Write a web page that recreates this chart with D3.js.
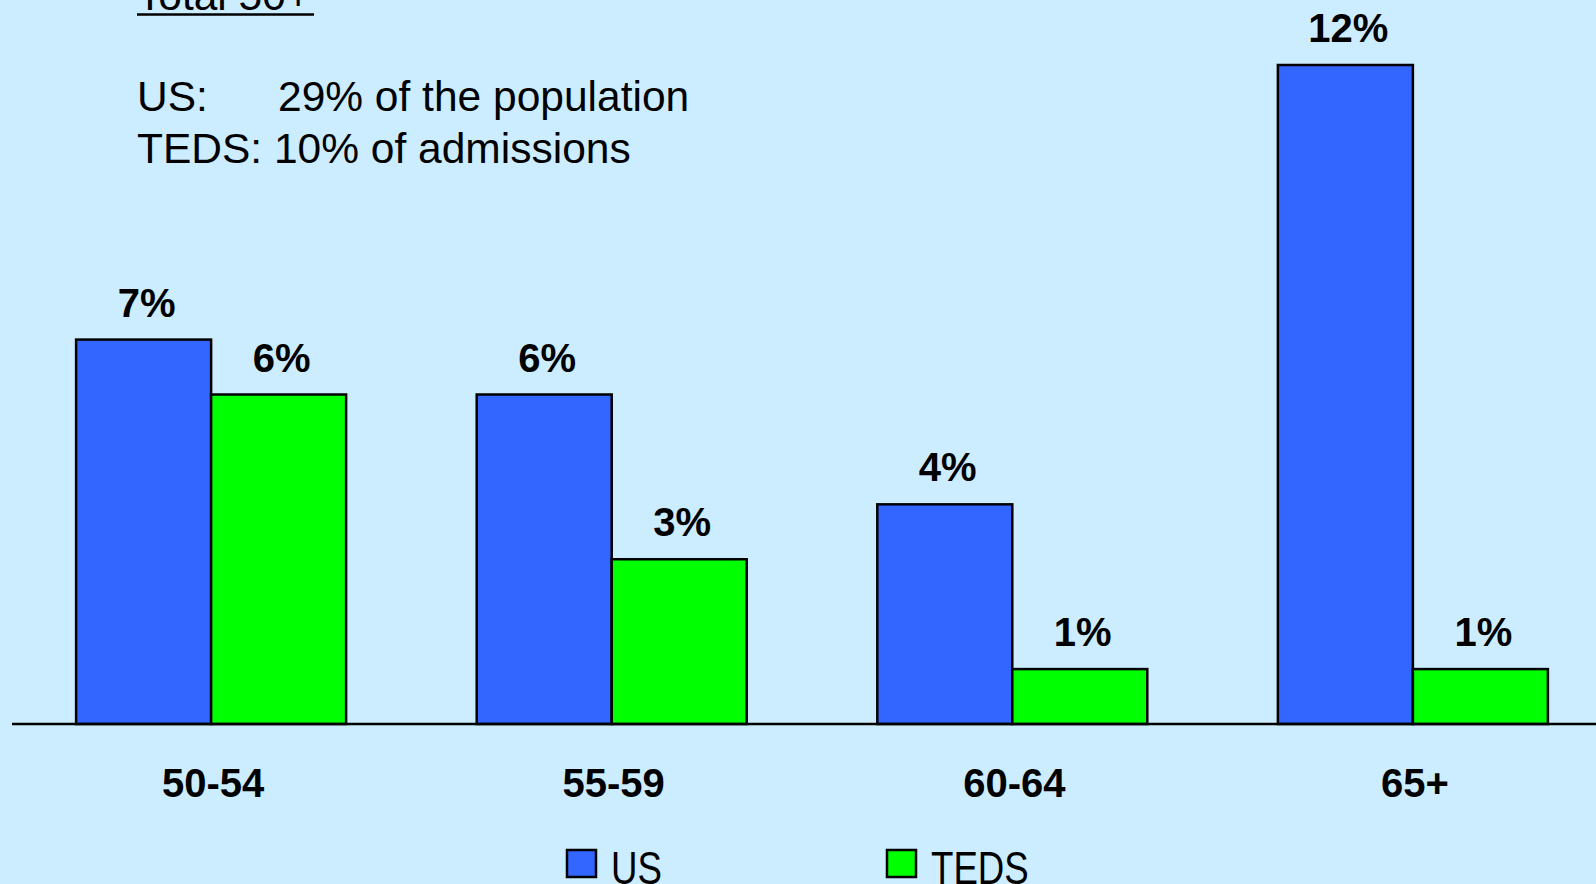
<!DOCTYPE html>
<html><head><meta charset="utf-8">
<script src="https://cdn.jsdelivr.net/npm/d3@7"></script>
<style>
html,body{margin:0;padding:0;background:#CCECFF;overflow:hidden;}
svg{display:block;font-family:"Liberation Sans",Arial,sans-serif;}
</style></head>
<body>
<script>
const categories = ["50-54", "55-59", "60-64", "65+"];
const seriesNames = ["US", "TEDS"];
const usValues = [7, 6, 4, 12];
const tedsValues = [6, 3, 1, 1];
const colors = {US: "#3366FF", TEDS: "#00FF00"};
const titleText = "Total 50+";
const noteUS = ["US:", "29% of the population"];
const noteTEDS = "TEDS: 10% of admissions";

const W = 1596, H = 884;
const svg = d3.select("body").append("svg").attr("width", W).attr("height", H);
svg.append("rect").attr("width", W).attr("height", H).attr("fill", "#CCECFF");

const x0 = d3.scaleBand().domain(categories).range([0, 1624]).paddingInner(0.326).paddingOuter(0.19);
const x1 = d3.scaleBand().domain(seriesNames).range([0, x0.bandwidth()]).padding(0);
const y = d3.scaleLinear().domain([0, 12]).range([724, 65]);

const data = categories.map((c, i) => ({cat: c, vals: [{k: "US", v: usValues[i]}, {k: "TEDS", v: tedsValues[i]}]}));

const g = svg.append("g");
const groups = g.selectAll("g.grp").data(data).join("g")
  .attr("transform", d => `translate(${x0(d.cat)},0)`);

groups.selectAll("rect").data(d => d.vals).join("rect")
  .attr("x", d => x1(d.k))
  .attr("y", d => y(d.v))
  .attr("width", x1.bandwidth())
  .attr("height", d => y(0) - y(d.v))
  .attr("fill", d => colors[d.k])
  .attr("stroke", "#000").attr("stroke-width", 2.5);

groups.selectAll("text.val").data(d => d.vals).join("text")
  .attr("class", "val")
  .attr("x", d => x1(d.k) + x1.bandwidth() / 2 + 3)
  .attr("y", d => y(d.v) - 23)
  .attr("text-anchor", "middle")
  .attr("font-size", 40).attr("font-weight", "bold").attr("fill", "#000")
  .text(d => d.v + "%");

// baseline axis
svg.append("line").attr("x1", 12).attr("x2", W).attr("y1", y(0)).attr("y2", y(0))
  .attr("stroke", "#000").attr("stroke-width", 2.5);

// category labels via axis
const axis = svg.append("g").attr("transform", `translate(2,${y(0)})`)
  .call(d3.axisBottom(x0).tickSize(0).tickPadding(0));
axis.select(".domain").remove();
axis.selectAll("text").attr("font-size", 40).attr("font-weight", "bold")
  .attr("font-family", '"Liberation Sans",Arial,sans-serif').attr("fill", "#000")
  .attr("dy", null).attr("y", 73);

// title (cut off at top, as in the reference) and notes
svg.append("text").attr("x", 137).attr("y", 10).attr("font-size", 42.5).attr("fill", "#000").text(titleText);
svg.append("line").attr("x1", 137).attr("x2", 314).attr("y1", 14.5).attr("y2", 14.5).attr("stroke", "#000").attr("stroke-width", 2.5);
const n1 = svg.append("text").attr("y", 111).attr("font-size", 42.5).attr("fill", "#000");
n1.append("tspan").attr("x", 137).text(noteUS[0]);
n1.append("tspan").attr("x", 278).text(noteUS[1]);
svg.append("text").attr("x", 137).attr("y", 163).attr("font-size", 42.5).attr("fill", "#000").text(noteTEDS);

// legend
const legendX = [566, 886];
const leg = svg.selectAll("g.leg").data(seriesNames).join("g")
  .attr("transform", (d, i) => `translate(${legendX[i]},849)`);
leg.append("rect").attr("x", 1).attr("y", 1).attr("width", 29).attr("height", 27)
  .attr("fill", d => colors[d]).attr("stroke", "#000").attr("stroke-width", 2.5);
leg.append("text").attr("transform", "translate(45,35) scale(0.78,1)")
  .attr("font-size", 47).attr("fill", "#000").text(d => d);
</script>
</body></html>
